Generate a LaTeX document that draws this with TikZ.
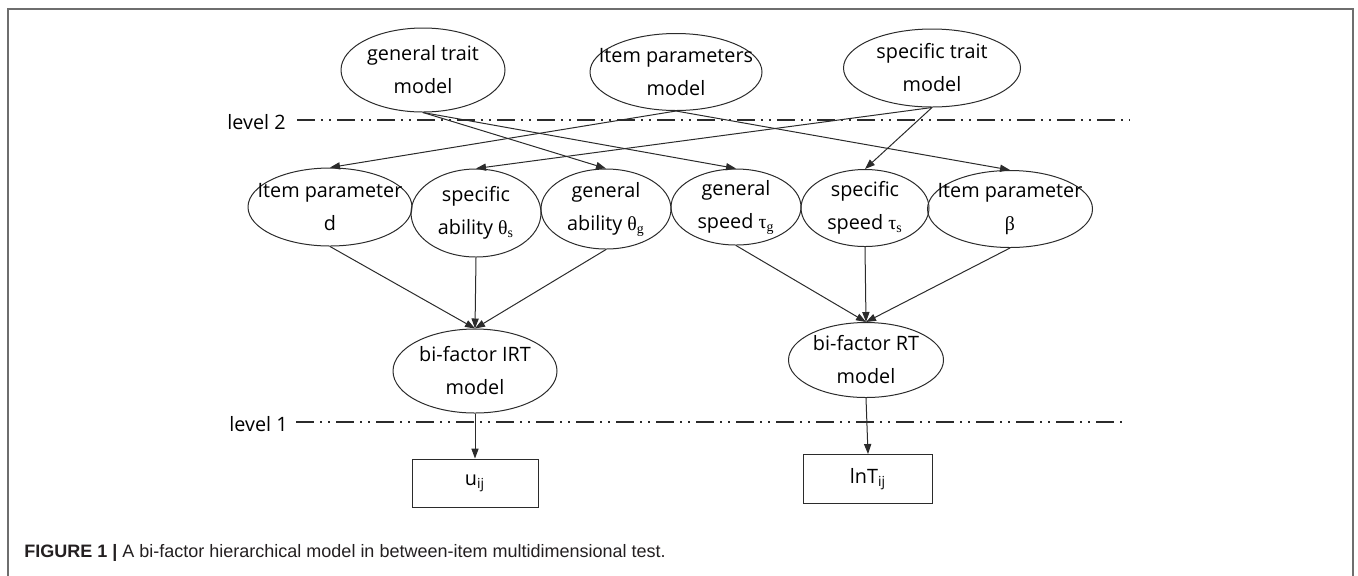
\documentclass[tikz,border=0pt]{standalone}
\usepackage{fontspec}
\setmainfont{Open Sans}
\newfontfamily\greekfont{Liberation Serif}
\newfontfamily\capfont{Liberation Sans}
\usepackage{xcolor}
\usepackage{tikz}
\usetikzlibrary{positioning, arrows.meta, shapes.geometric}
\definecolor{inkline}{HTML}{2B2B2B}
\definecolor{framegray}{HTML}{6E6E6E}
\definecolor{captext}{HTML}{231F20}
\tikzset{
  latent node/.style={
    ellipse,
    draw=inkline,
    line width=0.5pt,
    inner xsep=-15pt,
    inner ysep=-8pt,
    align=center,
    font=\fontsize{9.9}{16.5}\selectfont
  },
  obs box/.style={
    rectangle,
    draw=inkline,
    line width=0.5pt,
    align=center,
    font=\fontsize{9.9}{16.5}\selectfont
  },
  dep arrow/.style={
    -{Triangle[length=5pt,width=3.6pt]},
    line width=0.5pt,
    color=inkline
  },
  tier line/.style={
    line width=0.7pt,
    color=inkline,
    dash pattern=on 9pt off 3pt on 1pt off 3pt on 1pt off 3pt
  },
  tier label/.style={
    anchor=east,
    inner sep=1pt,
    font=\fontsize{9.9}{12}\selectfont
  }
}

\begin{document}
\begin{tikzpicture}[x=0.5pt, y=-0.5pt]
  \useasboundingbox (0,0) rectangle (1358,575);
  \draw[framegray, line width=0.75pt] (8,9) rectangle (1353,600);

  % level 2: trait and item models
  \node[latent node, minimum width=82pt, minimum height=42pt] (gentrait) at (423,70) {general trait\\model};
  \node[latent node, minimum width=86pt, minimum height=38.5pt] (itempar) at (676,72) {Item parameters\\model};
  \node[latent node, minimum width=88.5pt, minimum height=39pt] (spectrait) at (932,68) {specific trait\\model};

  % person and item parameters
  \node[latent node, minimum width=82pt, minimum height=39pt] (pard) at (330,207) {Item parameter\\d};
  \node[latent node, minimum width=65pt, minimum height=44pt] (specab) at (476,213) {specific\\ability {\greekfont θ\textsubscript{s}}};
  \node[latent node, minimum width=65pt, minimum height=40pt] (genab) at (606,209) {general\\ability {\greekfont θ\textsubscript{g}}};
  \node[latent node, minimum width=65pt, minimum height=38pt] (genspd) at (736,207) {general\\speed {\greekfont τ\textsubscript{g}}};
  \node[latent node, minimum width=64pt, minimum height=38.5pt] (specspd) at (865,208) {specific\\speed {\greekfont τ\textsubscript{s}}};
  \node[latent node, minimum width=82.5pt, minimum height=38.5pt] (parbeta) at (1010,209) {Item parameter\\{\greekfont β}};

  % level 1: measurement models
  \node[latent node, minimum width=82pt, minimum height=42pt] (irt) at (475,371) {bi-factor IRT\\model};
  \node[latent node, minimum width=77.5pt, minimum height=37.5pt] (rt) at (866,360) {bi-factor RT\\model};
  \node[obs box, minimum width=63pt, minimum height=24pt] (uij) at (475,483) {u\textsubscript{ij}};
  \node[obs box, minimum width=64.5pt, minimum height=24.5pt] (lnt) at (868,479) {lnT\textsubscript{ij}};

  % level separators
  \node[tier label] (lv2) at (288,122) {level 2};
  \coordinate (lv2start) at (297,120);
  \coordinate (lv2end) at (1130,120);
  \node[tier label] (lv1) at (290,424) {level 1};
  \coordinate (lv1start) at (296,422);
  \coordinate (lv1end) at (1128,422);
  \draw[tier line] (lv2start) -- (lv2end);
  \draw[tier line] (lv1start) -- (lv1end);

  \draw[dep arrow] (gentrait.south) -- (genab.north);
  \draw[dep arrow] (gentrait.south) -- (genspd.north);
  \draw[dep arrow] (itempar.south) -- (pard.north);
  \draw[dep arrow] (itempar.south) -- (parbeta.north);
  \draw[dep arrow] (spectrait.south) -- (specab.north);
  \draw[dep arrow] (spectrait.south) -- (specspd.north);

  \draw[dep arrow] (pard.south) -- (irt.north);
  \draw[dep arrow] (specab.south) -- (irt.north);
  \draw[dep arrow] (genab.south) -- (irt.north);
  \draw[dep arrow] (genspd.south) -- (rt.north);
  \draw[dep arrow] (specspd.south) -- (rt.north);
  \draw[dep arrow] (parbeta.south) -- (rt.north);

  \draw[dep arrow] (irt.south) -- (uij.north);
  \draw[dep arrow] (rt.south) -- (lnt.north);

  \node[anchor=base west, inner sep=0pt, text=captext, font=\capfont\fontsize{9}{11}\selectfont] (caption) at (24,557)
    {\textbf{FIGURE 1 |} A bi-factor hierarchical model in between-item multidimensional test.};
\end{tikzpicture}
\end{document}
